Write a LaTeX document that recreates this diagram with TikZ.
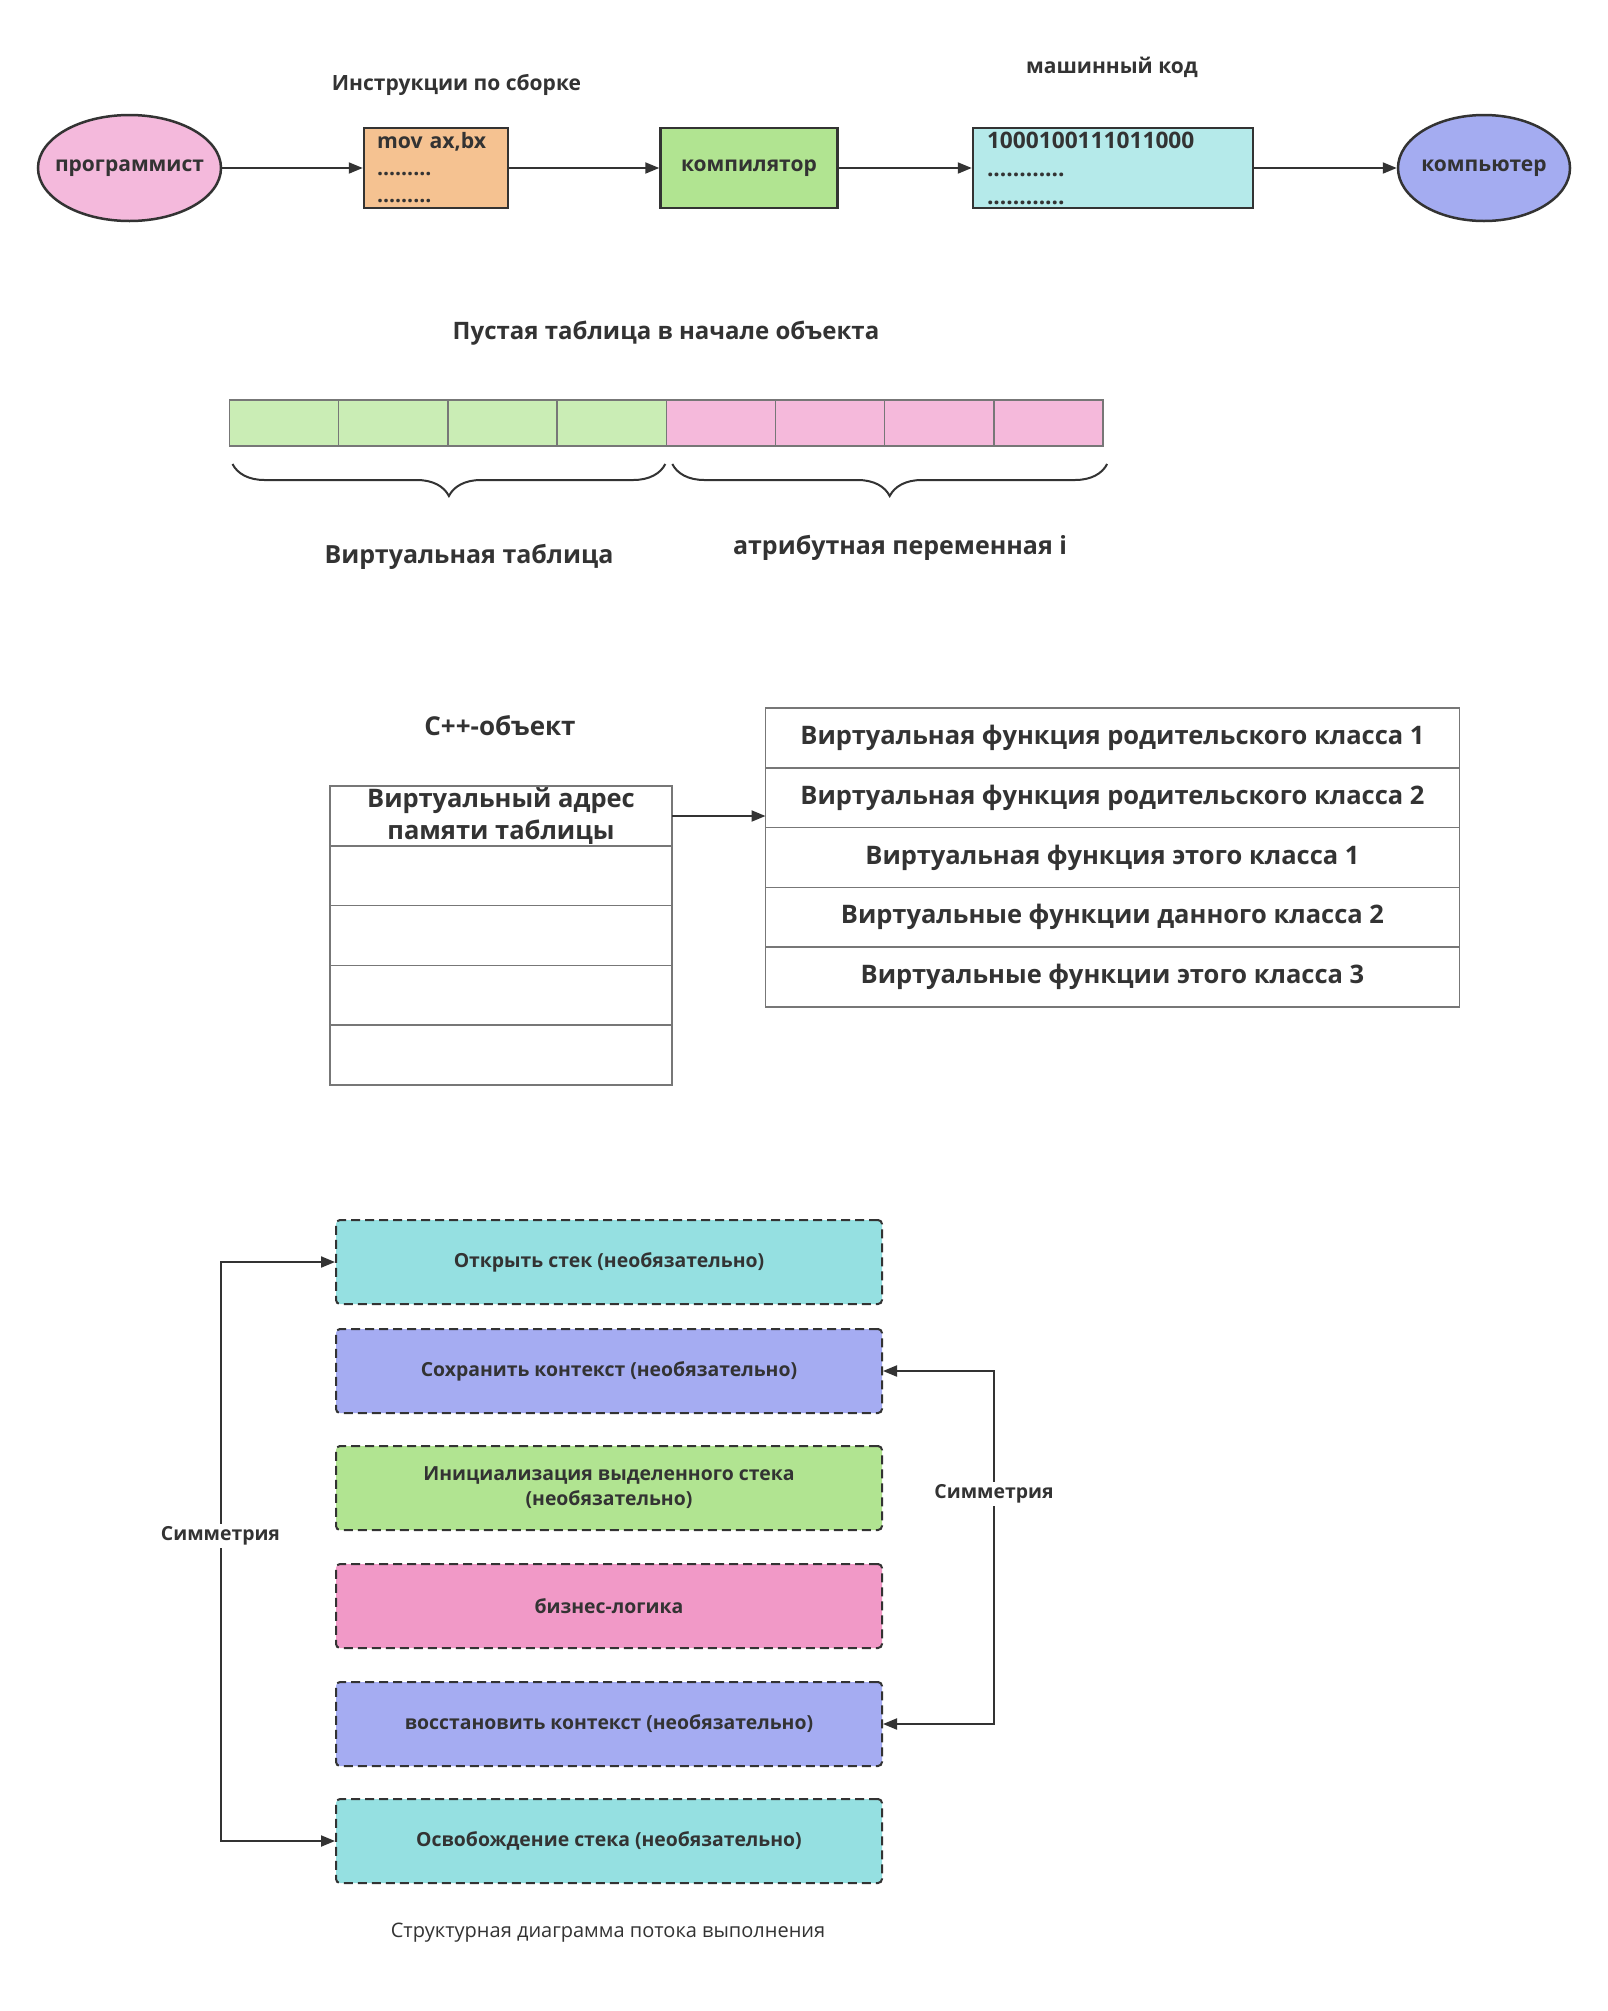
\documentclass[tikz,border=0pt]{standalone}
\usepackage{fontspec}
\setmainfont{Open Sans}
\usetikzlibrary{positioning,shapes.geometric,arrows.meta,decorations.pathreplacing}
\definecolor{ink}{HTML}{333333}
\definecolor{grid}{HTML}{777777}
\definecolor{progpink}{HTML}{F4B9DC}
\definecolor{asmorange}{HTML}{F5C291}
\definecolor{compgreen}{HTML}{B1E491}
\definecolor{mcodecyan}{HTML}{B5EAEA}
\definecolor{pcblue}{HTML}{A4ACF1}
\definecolor{cellgreen}{HTML}{CAEDB5}
\definecolor{cellpink}{HTML}{F5B9DB}
\definecolor{stackcyan}{HTML}{95E0E1}
\definecolor{ctxblue}{HTML}{A5ACF2}
\definecolor{initgreen}{HTML}{B1E491}
\definecolor{logicpink}{HTML}{F199C7}
\newcommand{\fs}[2]{\fontsize{#1}{#2}\selectfont}

\begin{document}
\begin{tikzpicture}[x=1pt, y=-1pt,
    every node/.style={text=ink},
    blob/.style={ellipse, draw=ink, line width=2.5pt, minimum width=183pt,
      minimum height=106pt, inner sep=0pt, font=\bfseries\fs{21}{25}},
    box/.style={rectangle, draw=ink, line width=2.5pt, minimum height=80pt,
      inner sep=0pt},
    flow/.style={draw=ink, line width=2pt, -{Triangle[length=14pt,width=11pt]}},
    twoway/.style={draw=ink, line width=2pt,
      {Triangle[length=14pt,width=11pt]}-{Triangle[length=14pt,width=11pt]}},
    note/.style={font=\bfseries\fs{25}{30}},
    cell/.style={rectangle, draw=grid, line width=1.3pt, minimum width=109.2pt,
      minimum height=46pt, inner sep=0pt, outer sep=0pt},
    slot/.style={rectangle, draw=grid, line width=1.6pt, minimum height=59.8pt,
      inner sep=0pt, outer sep=0pt, align=center, font=\bfseries\fs{25.5}{32}},
    stepbox/.style={rectangle, rounded corners=4pt, draw=ink, line width=2pt,
      dash pattern=on 9pt off 5pt, minimum width=546pt, minimum height=84pt,
      align=center, font=\bfseries\fs{19.4}{25}},
  ]
  \fill[white] (0,0) rectangle (1607,2011);
  \useasboundingbox (0,0) rectangle (1607,2011);

  % build chain
  \node[blob, fill=progpink, inner xsep=-11pt] (prog) at (129.5,168) {программист};
  \node[box, fill=asmorange, minimum width=144pt, text width=118pt, align=left,
    font=\bfseries\fs{21.2}{27}] (asm) at (436,168) {mov ax,bx\\.........\\.........};
  \node[box, fill=compgreen, minimum width=177pt, font=\bfseries\fs{21}{25}] (comp) at (749,168) {компилятор};
  \node[box, fill=mcodecyan, minimum width=280pt, text width=252pt, align=left,
    font=\bfseries\fs{22.7}{28}] (mcode) at (1113,168) {1000100111011000\\............\\............};
  \node[blob, fill=pcblue, minimum width=172pt, inner xsep=-2pt] (pc) at (1484,168) {компьютер};
  \node[note, font=\bfseries\fs{21}{25}] (asmlbl) at (456.5,85) {Инструкции по сборке};
  \node[note, font=\bfseries\fs{21}{25}] (mcodelbl) at (1112,67) {машинный код};
  \draw[flow] (prog) -- (asm);
  \draw[flow] (asm) -- (comp);
  \draw[flow] (comp) -- (mcode);
  \draw[flow] (mcode) -- (pc);

  % object layout
  \node[note, font=\bfseries\fs{24}{29}] (emptylbl) at (666,333) {Пустая таблица в начале объекта};
  \foreach \i in {1,...,4}
    \node[cell, fill=cellgreen] (c\i) at ({229.5+109.2*(\i-0.5)},423) {};
  \foreach \i in {5,...,8}
    \node[cell, fill=cellpink] (c\i) at ({229.5+109.2*(\i-0.5)},423) {};
  \draw[ink, line width=2pt, decorate,
    decoration={brace, mirror, amplitude=32pt, raise=18pt}]
    ([xshift=3pt]c1.south west) -- ([xshift=-1pt]c4.south east);
  \draw[ink, line width=2pt, decorate,
    decoration={brace, mirror, amplitude=32pt, raise=18pt}]
    ([xshift=6pt]c5.south west) -- ([xshift=4pt]c8.south east);
  \node[note] (vtlbl) at (469,557) {Виртуальная таблица};
  \node[note] (attrlbl) at (900,548) {атрибутная переменная i};

  % object and vtable
  \node[note, font=\bfseries\fs{26}{30}] (objlbl) at (500,726) {C++-объект};
  \node[slot, minimum width=342.5pt] (o1) at (501,816) {Виртуальный адрес\\памяти таблицы};
  \foreach \i in {2,...,5}
    \node[slot, minimum width=342.5pt] (o\i) at (501,{786+59.8*(\i-0.5)}) {};
  \foreach \t [count=\i] in {Виртуальная функция родительского класса 1,
      Виртуальная функция родительского класса 2,
      Виртуальная функция этого класса 1,
      Виртуальные функции данного класса 2,
      Виртуальные функции этого класса 3}
    \node[slot, minimum width=694pt] (v\i) at (1112.5,{708+59.8*(\i-0.5)}) {\t};
  \draw[flow] (o1.east) -- (o1.east -| v1.west);

  % execution flow
  \node[stepbox, fill=stackcyan] (s1) at (609,1262) {Открыть стек (необязательно)};
  \node[stepbox, fill=ctxblue] (s2) at (609,1371) {Сохранить контекст (необязательно)};
  \node[stepbox, fill=initgreen] (s3) at (609,1488) {Инициализация выделенного стека\\(необязательно)};
  \node[stepbox, fill=logicpink] (s4) at (609,1606) {бизнес-логика};
  \node[stepbox, fill=ctxblue] (s5) at (609,1724) {восстановить контекст (необязательно)};
  \node[stepbox, fill=stackcyan] (s6) at (609,1841) {Освобождение стека (необязательно)};
  \coordinate (lbend) at (220.5,1262);
  \coordinate (rbend) at (994,1371);
  \draw[twoway] (s1.west) -- (s1.west -| lbend) -- (s6.west -| lbend) -- (s6.west);
  \draw[twoway] (s2.east) -- (s2.east -| rbend) -- (s5.east -| rbend) -- (s5.east);
  \node[fill=white, inner sep=3pt, font=\bfseries\fs{19.4}{23}] (lsym) at (220.5,1536) {Симметрия};
  \node[fill=white, inner sep=3pt, font=\bfseries\fs{19.4}{23}] (rsym) at (994,1494) {Симметрия};
  \node[font=\fs{20}{24}] (caption) at (608,1933) {Структурная диаграмма потока выполнения};
\end{tikzpicture}
\end{document}
